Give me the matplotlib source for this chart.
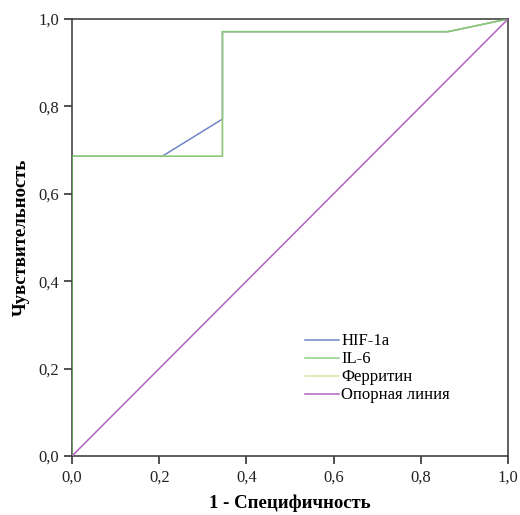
import matplotlib
matplotlib.use("Agg")
import matplotlib.pyplot as plt
from matplotlib.ticker import FuncFormatter

# ROC curves (1 - specificity, sensitivity)
hif_x = [0.0, 0.0, 0.207, 0.345, 0.345, 0.862, 1.0]
hif_y = [0.0, 0.686, 0.686, 0.771, 0.971, 0.971, 1.0]
il6_x = [0.0, 0.0, 0.345, 0.345, 0.862, 1.0]
il6_y = [0.0, 0.686, 0.686, 0.971, 0.971, 1.0]
fer_x = [0.0, 0.0, 0.345, 0.345, 0.862, 1.0]
fer_y = [0.0, 0.686, 0.686, 0.971, 0.971, 1.0]
ref_x = [0.0, 1.0]
ref_y = [0.0, 1.0]

labels = ["HIF-1a", "IL-6", "Ферритин", "Опорная линия"]
colors = ["#6f86c8", "#72c46a", "#dcdfa8", "#b063bf"]
ticks = [0.0, 0.2, 0.4, 0.6, 0.8, 1.0]

plt.rcParams['font.family'] = ['Liberation Serif', 'DejaVu Serif']

fig = plt.figure(figsize=(5.2, 5.15), dpi=100)
ax = fig.add_axes([0.1385, 0.1146, 0.8385, 0.8485])

# draw order: HIF at the bottom, green IL-6 on top of the pale ferritin line
ax.plot(hif_x, hif_y, color=colors[0], lw=1.1, label=labels[0], zorder=2)
ax.plot(il6_x, il6_y, color=colors[1], lw=1.1, label=labels[1], zorder=2.6, alpha=0.8)
ax.plot(fer_x, fer_y, color=colors[2], lw=1.1, label=labels[2], zorder=2.3)
ax.plot(ref_x, ref_y, color=colors[3], lw=1.1, label=labels[3], zorder=3)

ax.set_xlim(0, 1)
ax.set_ylim(0, 1)
ax.set_xticks(ticks)
ax.set_yticks(ticks)
fmt = FuncFormatter(lambda v, p: f"{v:.1f}".replace(".", ","))
ax.xaxis.set_major_formatter(fmt)
ax.yaxis.set_major_formatter(fmt)
ax.tick_params(direction='out', length=6, width=1.2, labelsize=12, color='#333333',
               labelcolor='#222222')
for s in ax.spines.values():
    s.set_color('#444444')
    s.set_linewidth(1.2)

ax.set_xlabel("1 - Специфичность", fontsize=13.5, fontweight='bold', labelpad=7)
ax.set_ylabel("Чувствительность", fontsize=13.5, fontweight='bold', labelpad=6)

ax.legend(loc='lower left', bbox_to_anchor=(0.52, 0.105), frameon=False,
          fontsize=12, handlelength=2.0, handletextpad=0.15, labelspacing=0.12,
          borderaxespad=0)

fig.savefig("out.png", dpi=100)
